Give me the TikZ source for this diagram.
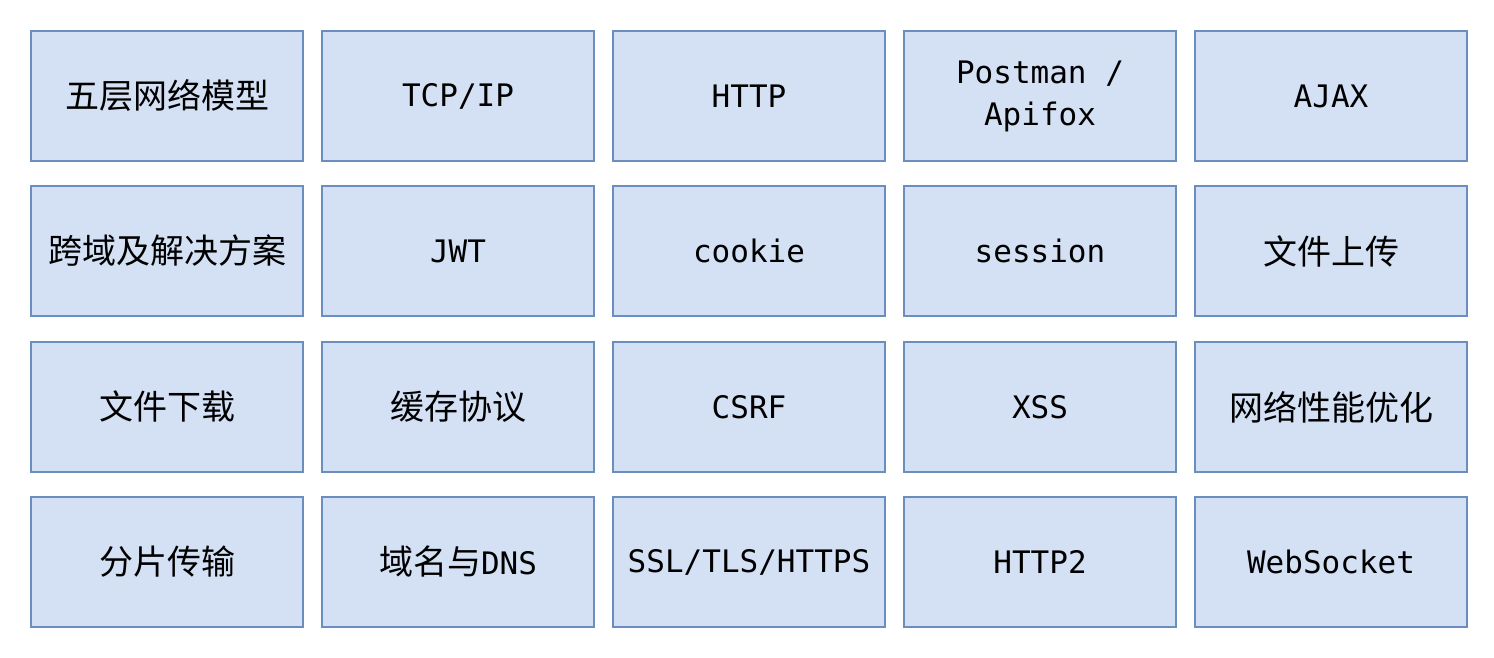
\documentclass[tikz,border=0pt]{standalone}
\usepackage{fontspec}
\setmonofont{DejaVu Sans Mono}
\newfontfamily\cjk{Noto Sans CJK SC}
\newcommand{\zh}{\cjk\fontsize{34}{42}\selectfont}
\definecolor{boxfill}{HTML}{D4E1F5}
\definecolor{boxline}{HTML}{6C8EBF}
\tikzset{
  topicbox/.style={draw=boxline, fill=boxfill, line width=2pt,
    minimum width=272pt, minimum height=130pt, inner sep=0pt, align=center,
    font=\ttfamily\fontsize{31}{42}\selectfont}
}

\begin{document}
\begin{tikzpicture}[x=1pt,y=1pt]
\useasboundingbox (0,0) rectangle (1494,658);

% row 1
\node[topicbox] (layers) at (167,562) {{\zh 五层网络模型}};
\node[topicbox] (tcpip) at (458,562) {TCP/IP};
\node[topicbox] (http) at (749,562) {HTTP};
\node[topicbox] (postman) at (1040,562) {Postman /\\Apifox};
\node[topicbox] (ajax) at (1331,562) {AJAX};

% row 2
\node[topicbox] (cors) at (167,407) {{\zh 跨域及解决方案}};
\node[topicbox] (jwt) at (458,407) {JWT};
\node[topicbox] (cookie) at (749,407) {cookie};
\node[topicbox] (session) at (1040,407) {session};
\node[topicbox] (upload) at (1331,407) {{\zh 文件上传}};

% row 3
\node[topicbox] (download) at (167,251) {{\zh 文件下载}};
\node[topicbox] (cache) at (458,251) {{\zh 缓存协议}};
\node[topicbox] (csrf) at (749,251) {CSRF};
\node[topicbox] (xss) at (1040,251) {XSS};
\node[topicbox] (perf) at (1331,251) {{\zh 网络性能优化}};

% row 4
\node[topicbox] (chunk) at (167,96) {{\zh 分片传输}};
\node[topicbox] (dns) at (458,96) {{\zh 域名与}DNS};
\node[topicbox] (https) at (749,96) {SSL/TLS/HTTPS};
\node[topicbox] (http2) at (1040,96) {HTTP2};
\node[topicbox] (ws) at (1331,96) {WebSocket};

\end{tikzpicture}
\end{document}
